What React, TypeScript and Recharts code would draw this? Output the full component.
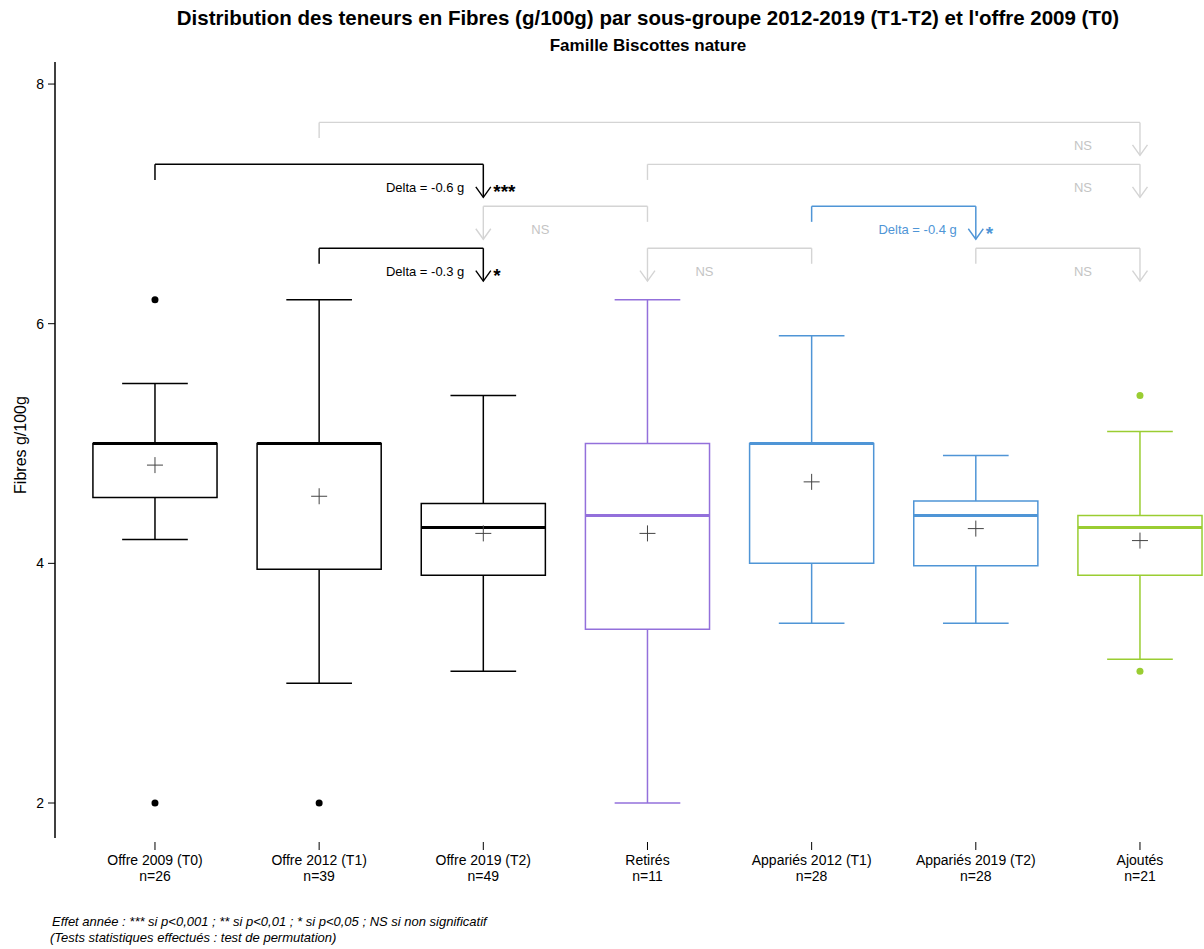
import React from "react";
import {
  ComposedChart,
  XAxis,
  YAxis,
  ReferenceArea,
  ReferenceLine,
  Scatter,
} from "recharts";

// groups along the x axis
const GROUPS = [
  "Offre 2009 (T0)",
  "Offre 2012 (T1)",
  "Offre 2019 (T2)",
  "Retirés",
  "Appariés 2012 (T1)",
  "Appariés 2019 (T2)",
  "Ajoutés",
];
const COUNTS = [26, 39, 49, 11, 28, 28, 21];

// box plot stats (g/100g)
const LOW_WHISKER = [4.2, 3.0, 3.1, 2.0, 3.5, 3.5, 3.2];
const Q1 = [4.55, 3.95, 3.9, 3.45, 4.0, 3.98, 3.9];
const MEDIAN = [5.0, 5.0, 4.3, 4.4, 5.0, 4.4, 4.3];
const Q3 = [5.0, 5.0, 4.5, 5.0, 5.0, 4.52, 4.4];
const HIGH_WHISKER = [5.5, 6.2, 5.4, 6.2, 5.9, 4.9, 5.1];
const MEAN = [4.82, 4.56, 4.25, 4.25, 4.68, 4.29, 4.19];
const OUTLIERS: number[][] = [[6.2, 2.0], [2.0], [], [], [], [], [5.4, 3.1]];

const Y_TICKS = [2, 4, 6, 8];

const BLUE = "#4f95d6";
const GROUP_COLORS = ["#000", "#000", "#000", "#9370db", BLUE, BLUE, "#9acd32"];
const NS_LINE = "#d4d4d4";
const NS_TEXT = "#c4c4c4";

// pairwise comparisons: arrow points at `to`
const COMPARISONS = [
  { from: 2, to: 7, level: 7.68, delta: "", sig: "NS", tone: "ns" },
  { from: 1, to: 3, level: 7.33, delta: "Delta = -0.6 g", sig: "***", tone: "black" },
  { from: 4, to: 7, level: 7.33, delta: "", sig: "NS", tone: "ns" },
  { from: 4, to: 3, level: 6.98, delta: "", sig: "NS", tone: "ns" },
  { from: 5, to: 6, level: 6.98, delta: "Delta = -0.4 g", sig: "*", tone: "blue" },
  { from: 2, to: 3, level: 6.63, delta: "Delta = -0.3 g", sig: "*", tone: "black" },
  { from: 5, to: 4, level: 6.63, delta: "", sig: "NS", tone: "ns" },
  { from: 6, to: 7, level: 6.63, delta: "", sig: "NS", tone: "ns" },
];

const BOX_HALF = 0.378;
const CAP_HALF = 0.2;
const LEG_DROP = 0.13;
const ARROW_DROP = 0.275;

const toneColor = (tone: string) =>
  tone === "black" ? "#000" : tone === "blue" ? BLUE : NS_LINE;

const meanPoints = MEAN.map((m, i) => ({ x: i + 1, y: m }));
const outlierPoints = OUTLIERS.flatMap((vals, i) =>
  vals.map((v) => ({ x: i + 1, y: v, color: GROUP_COLORS[i] }))
);
const arrowTips = COMPARISONS.map((c) => ({
  ...c,
  x: c.to,
  y: c.level - ARROW_DROP,
}));

const MeanCross = (props: any) => {
  const { cx, cy } = props;
  return (
    <path
      d={`M${cx - 8},${cy} H${cx + 8} M${cx},${cy - 8} V${cy + 8}`}
      stroke="#444"
      strokeWidth={1}
      fill="none"
    />
  );
};

const OutlierDot = (props: any) => {
  const { cx, cy, payload } = props;
  return <circle cx={cx} cy={cy} r={3.5} fill={payload.color} />;
};

const ArrowHead = (props: any) => {
  const { cx, cy, payload } = props;
  const c = toneColor(payload.tone);
  const inward = payload.to > payload.from ? -1 : 1;
  return (
    <g>
      <path
        d={`M${cx - 7.5},${cy - 10.5} L${cx},${cy} L${cx + 7.5},${cy - 10.5}`}
        fill="none"
        stroke={c}
        strokeWidth={1.4}
      />
      {payload.delta ? (
        <>
          <text
            x={cx - 19}
            y={cy - 5}
            textAnchor="end"
            fontSize={13}
            fill={payload.tone === "blue" ? BLUE : "#000"}
          >
            {payload.delta}
          </text>
          <text x={cx + 10} y={cy + 1} fontSize={19} fontWeight="bold" fill={c}>
            {payload.sig}
          </text>
        </>
      ) : (
        <text
          x={cx + inward * 57}
          y={cy - 5}
          textAnchor="middle"
          fontSize={13}
          fill={NS_TEXT}
        >
          {payload.sig}
        </text>
      )}
    </g>
  );
};

const CategoryTick = (props: any) => {
  const { x, y, payload } = props;
  const i = Math.round(payload.value) - 1;
  return (
    <g>
      <line x1={x} x2={x} y1={y + 4} y2={y + 12} stroke="#000" strokeWidth={1} />
      <text x={x} y={y + 27} textAnchor="middle" fontSize={14} fill="#000">
        {GROUPS[i]}
      </text>
      <text x={x} y={y + 43} textAnchor="middle" fontSize={14} fill="#000">
        n={COUNTS[i]}
      </text>
    </g>
  );
};

export default function App() {
  const seg = (x1: number, y1: number, x2: number, y2: number) =>
    [
      { x: x1, y: y1 },
      { x: x2, y: y2 },
    ] as any;

  return (
    <div
      style={{
        position: "absolute",
        left: 0,
        top: 0,
        width: 1204,
        height: 949,
        background: "#fff",
        fontFamily: "'Liberation Sans', Arial, sans-serif",
      }}
    >
      <ComposedChart
        width={1204}
        height={949}
        margin={{ top: 62, right: 0, bottom: 51, left: 0 }}
      >
        <XAxis
          type="number"
          dataKey="x"
          domain={[0.391, 7.39]}
          ticks={[1, 2, 3, 4, 5, 6, 7]}
          interval={0}
          allowDataOverflow
          axisLine={false}
          tickLine={false}
          tickSize={0}
          tickMargin={0}
          height={60}
          tick={<CategoryTick />}
        />
        <YAxis
          type="number"
          dataKey="y"
          domain={[1.708, 8.184]}
          ticks={Y_TICKS}
          allowDataOverflow
          width={55}
          axisLine={{ stroke: "#000", strokeWidth: 1.5 }}
          tickLine={{ stroke: "#000" }}
          tickSize={7}
          tickMargin={4}
          tick={{ fontSize: 14, fill: "#000" }}
        />

        {GROUPS.map((_, i) => {
          const x = i + 1;
          const c = GROUP_COLORS[i];
          return (
            <React.Fragment key={`box-${i}`}>
              <ReferenceLine segment={seg(x, Q3[i], x, HIGH_WHISKER[i])} stroke={c} strokeWidth={1.5} />
              <ReferenceLine segment={seg(x, LOW_WHISKER[i], x, Q1[i])} stroke={c} strokeWidth={1.5} />
              <ReferenceLine
                segment={seg(x - CAP_HALF, HIGH_WHISKER[i], x + CAP_HALF, HIGH_WHISKER[i])}
                stroke={c}
                strokeWidth={1.5}
              />
              <ReferenceLine
                segment={seg(x - CAP_HALF, LOW_WHISKER[i], x + CAP_HALF, LOW_WHISKER[i])}
                stroke={c}
                strokeWidth={1.5}
              />
              <ReferenceArea
                x1={x - BOX_HALF}
                x2={x + BOX_HALF}
                y1={Q1[i]}
                y2={Q3[i]}
                fill="none"
                stroke={c}
                strokeWidth={1.5}
                ifOverflow="visible"
              />
              <ReferenceLine
                segment={seg(x - BOX_HALF, MEDIAN[i], x + BOX_HALF, MEDIAN[i])}
                stroke={c}
                strokeWidth={3}
              />
            </React.Fragment>
          );
        })}

        {COMPARISONS.map((cmp, k) => {
          const c = toneColor(cmp.tone);
          const w = cmp.tone === "ns" ? 1.4 : 1.5;
          return (
            <React.Fragment key={`cmp-${k}`}>
              <ReferenceLine segment={seg(cmp.from, cmp.level, cmp.to, cmp.level)} stroke={c} strokeWidth={w} />
              <ReferenceLine
                segment={seg(cmp.from, cmp.level, cmp.from, cmp.level - LEG_DROP)}
                stroke={c}
                strokeWidth={w}
              />
              <ReferenceLine
                segment={seg(cmp.to, cmp.level, cmp.to, cmp.level - ARROW_DROP)}
                stroke={c}
                strokeWidth={w}
              />
            </React.Fragment>
          );
        })}

        <Scatter data={meanPoints} dataKey="y" shape={<MeanCross />} isAnimationActive={false} />
        <Scatter data={outlierPoints} dataKey="y" shape={<OutlierDot />} isAnimationActive={false} />
        <Scatter data={arrowTips} dataKey="y" shape={<ArrowHead />} isAnimationActive={false} />
      </ComposedChart>

      <svg
        width={1204}
        height={949}
        style={{ position: "absolute", left: 0, top: 0, pointerEvents: "none" }}
      >
        <text x={648} y={25} textAnchor="middle" fontSize={20.5} fontWeight="bold" fill="#000">
          Distribution des teneurs en Fibres (g/100g) par sous-groupe 2012-2019 (T1-T2) et l'offre 2009 (T0)
        </text>
        <text x={648} y={51} textAnchor="middle" fontSize={17} fontWeight="bold" fill="#000">
          Famille Biscottes nature
        </text>
        <text
          x={20}
          y={445}
          textAnchor="middle"
          dominantBaseline="central"
          fontSize={16}
          fill="#000"
          transform="rotate(-90 20 445)"
        >
          Fibres g/100g
        </text>
        <text x={52} y={926} fontSize={13} fontStyle="italic" fill="#000">
          Effet année : *** si p&lt;0,001 ; ** si p&lt;0,01 ; * si p&lt;0,05 ; NS si non significatif
        </text>
        <text x={50} y={942} fontSize={13} fontStyle="italic" fill="#000">
          (Tests statistiques effectués : test de permutation)
        </text>
      </svg>
    </div>
  );
}
